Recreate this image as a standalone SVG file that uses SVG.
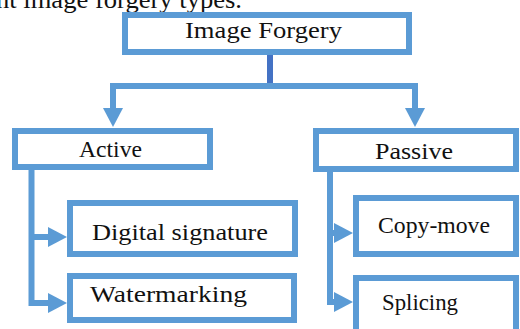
<svg xmlns="http://www.w3.org/2000/svg" width="520" height="329" viewBox="0 0 520 329">
<style>
.box{fill:#fff;stroke:#5b9bd5;stroke-width:6}
.lbl{font-family:"Liberation Serif","Times New Roman",serif;font-size:23px;fill:#111}
.con{fill:none;stroke:#5b9bd5;stroke-width:6}
.main{fill:none;stroke:#4472c4;stroke-width:6}
</style>
<defs>
<marker id="ah" markerUnits="userSpaceOnUse" markerWidth="20" markerHeight="20" refX="0" refY="10" orient="auto" viewBox="0 0 20 20">
<path d="M0,0 L19,10 L0,20 z" fill="#5b9bd5"/>
</marker>
</defs>
<rect width="520" height="329" fill="#fff"/>
<text class="lbl" x="-4" y="8" style="font-size:25px" textLength="246" lengthAdjust="spacingAndGlyphs">nt image forgery types.</text>
<g id="connectors">
<line class="main" x1="270" y1="55" x2="270" y2="86"/>
<polyline class="con" points="113,108 113,86 415,86 415,108" marker-end="url(#ah)"/>
<line class="con" x1="113" y1="86" x2="113" y2="108" marker-end="url(#ah)"/>
<polyline class="con" points="31.5,170 31.5,303 48,303" marker-end="url(#ah)"/>
<line class="con" x1="31.5" y1="237" x2="48" y2="237" marker-end="url(#ah)"/>
<polyline class="con" points="330,172 330,302 334,302" marker-end="url(#ah)"/>
<line class="con" x1="330" y1="233" x2="334" y2="233" marker-end="url(#ah)"/>
</g>
<g id="image-forgery">
<rect class="box" x="125" y="15" width="284" height="37"/>
<text class="lbl" x="185" y="38" textLength="157" lengthAdjust="spacingAndGlyphs">Image Forgery</text>
</g>
<g id="active">
<rect class="box" x="15" y="131" width="195" height="36"/>
<text class="lbl" x="79" y="157" textLength="63" lengthAdjust="spacingAndGlyphs">Active</text>
</g>
<g id="passive">
<rect class="box" x="316" y="131" width="200" height="38"/>
<text class="lbl" x="375" y="159" textLength="78" lengthAdjust="spacingAndGlyphs">Passive</text>
</g>
<g id="digital-signature">
<rect class="box" x="70" y="203" width="225" height="51"/>
<text class="lbl" x="92" y="240" textLength="176" lengthAdjust="spacingAndGlyphs">Digital signature</text>
</g>
<g id="watermarking">
<rect class="box" x="70" y="276" width="224" height="44"/>
<text class="lbl" x="90" y="302" textLength="157" lengthAdjust="spacingAndGlyphs">Watermarking</text>
</g>
<g id="copy-move">
<rect class="box" x="356" y="198" width="160" height="56"/>
<text class="lbl" x="378" y="233" textLength="112" lengthAdjust="spacingAndGlyphs">Copy-move</text>
</g>
<g id="splicing">
<rect class="box" x="356" y="278" width="160" height="60"/>
<text class="lbl" x="382" y="310" textLength="76" lengthAdjust="spacingAndGlyphs">Splicing</text>
</g>
</svg>
